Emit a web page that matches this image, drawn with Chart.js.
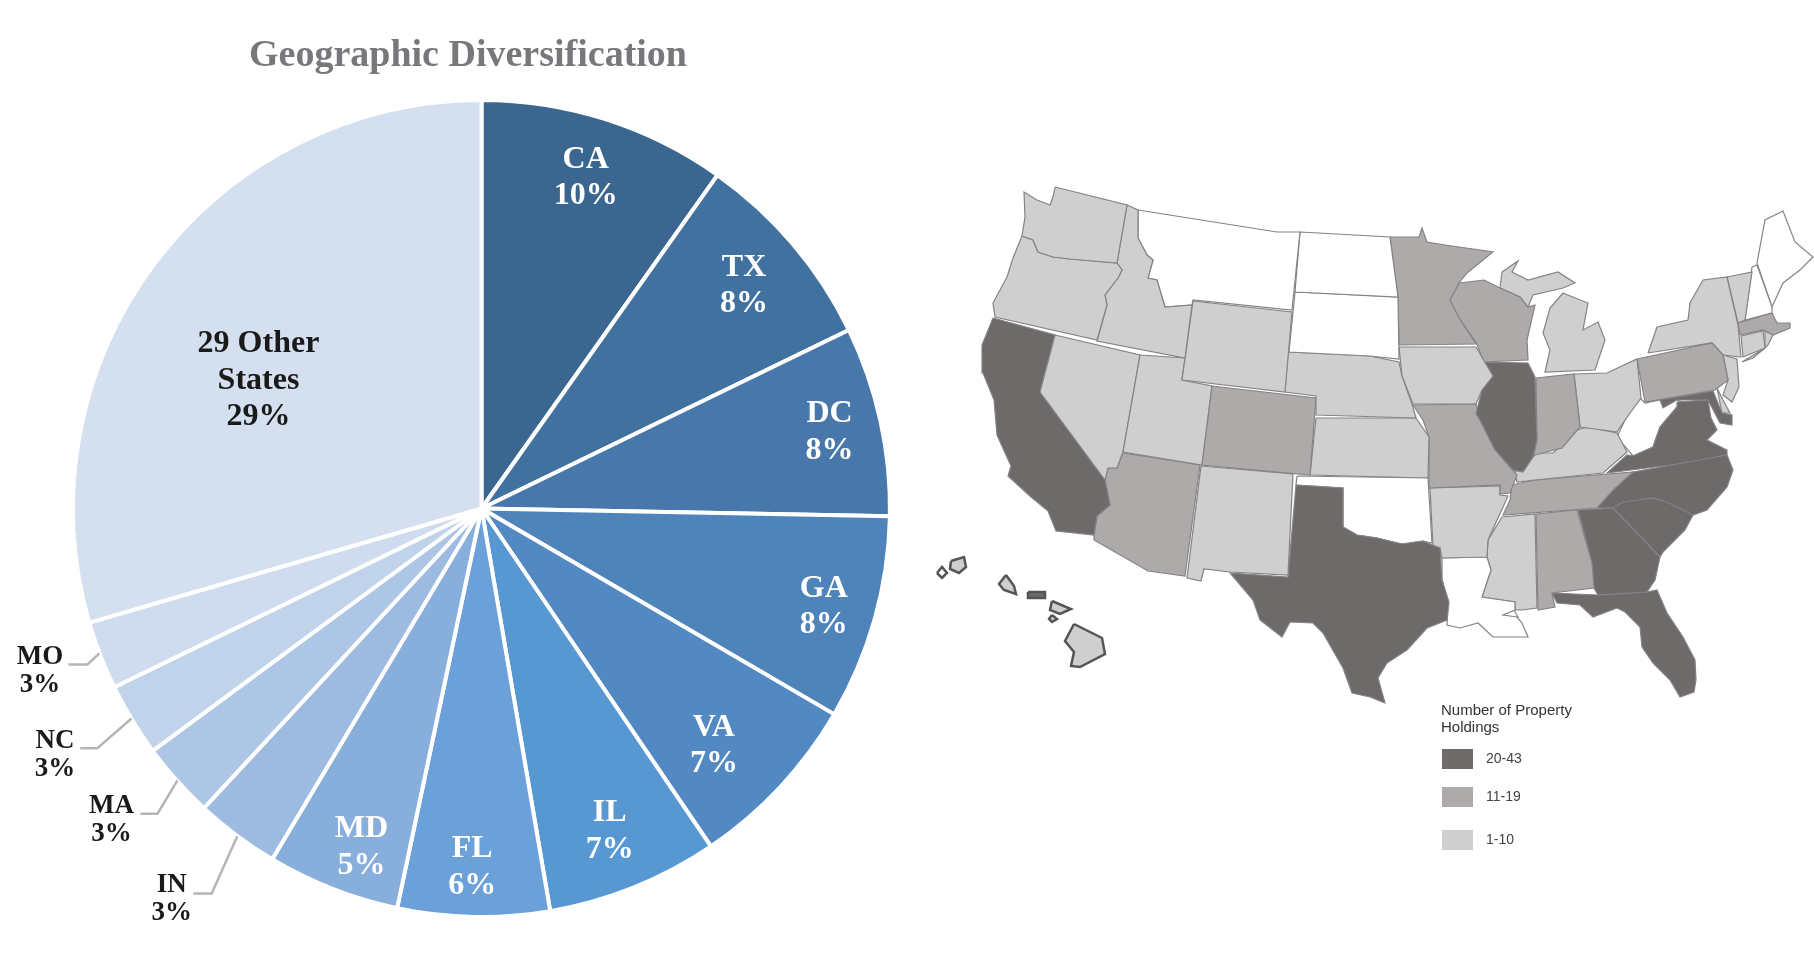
<!DOCTYPE html>
<html>
<head>
<meta charset="utf-8">
<title>Geographic Diversification</title>
<script src="https://cdn.jsdelivr.net/npm/chart.js@4"></script>
<style>
  html, body { margin: 0; padding: 0; background: #fff; overflow: hidden; }
  canvas { position: absolute; display: block; }
  #pieChart { left: 0; top: 0; }
  #mapChart { left: 920px; top: 180px; filter: blur(0.6px); }
</style>
</head>
<body>
<canvas id="pieChart" width="936" height="956"></canvas>
<canvas id="mapChart" width="894" height="720"></canvas>
<script>
// pie data
const stateNames = ["CA", "TX", "DC", "GA", "VA", "IL", "FL", "MD", "IN", "MA", "NC", "MO", "Other"];
const stateShares = [9.8, 8.0, 7.5, 8.1, 7.1, 6.8, 6.0, 5.25, 3.33, 3.0, 2.9, 2.7, 29.5];
const labelLines = [
  ["CA", "10%"], ["TX", "8%"], ["DC", "8%"], ["GA", "8%"], ["VA", "7%"], ["IL", "7%"], ["FL", "6%"],
  ["MD", "5%"], ["IN", "3%"], ["MA", "3%"], ["NC", "3%"], ["MO", "3%"], ["29 Other", "States", "29%"],
];
const sliceColors = ["#3b6690", "#41719f", "#4878ab", "#4f84ba", "#5289c3", "#5898d2", "#6ba0d8",
  "#88aedb", "#9dbbe1", "#aec6e5", "#c1d3ea", "#cfdcef", "#d4dfef"];
const labelColors = ["#fff", "#fff", "#fff", "#fff", "#fff", "#fff", "#fff", "#fff",
  "#1a1a1a", "#1a1a1a", "#1a1a1a", "#1a1a1a", "#1a1a1a"];
// label centres, in pie radii from the middle
const labelSpots = [[.256, -.81], [.645, -.545], [.855, -.185], [.841, .244], [.571, .585], [.315, .795],
  [-.023, .884], [-.295, .835], [-.761, .963], [-.909, .767], [-1.048, .608], [-1.085, .403], [-.548, -.3125]];
const outsideLabels = ["IN", "MA", "NC", "MO"];
// leader lines of the small slices, same units
const leaders = [
  [[-1.015, .383], [-.968, .383], [-.939, .356]],
  [[-.986, .589], [-.944, .589], [-.86, .516]],
  [[-.838, .75], [-.796, .75], [-.747, .668]],
  [[-.708, .946], [-.663, .946], [-.6, .805]],
];

// map tiers and legend
const tierColors = { dark: "#6f6a6a", mid: "#aeaaaa", light: "#cfcfd0", none: "#ffffff" };
const legendTitle = ["Number of Property", "Holdings"];
const legendLabels = ["20-43", "11-19", "1-10"];
const legendTiers = ["dark", "mid", "light"];

// state outlines (x, y on the map's own axes)
const WA = [[1055,187],[1127,205],[1117,263],[1070,259],[1053,257],[1038,252],[1033,240],[1022,236],[1025,217],[1024,192],[1037,200],[1050,205],[1053,197]];
const OR = [[1022,236],[1033,240],[1038,252],[1053,257],[1070,259],[1117,263],[1122,270],[1118,278],[1105,295],[1107,305],[1097,340],[995,317],[993,303],[1007,277],[1013,258]];
const ID = [[1127,205],[1138,210],[1138,238],[1147,255],[1153,260],[1148,278],[1157,280],[1165,307],[1192,305],[1185,358],[1097,341],[1107,305],[1105,295],[1118,278],[1122,270],[1117,263]];
const MT = [[1138,210],[1277,232],[1300,232],[1292,310],[1193,300],[1192,305],[1165,307],[1157,280],[1148,278],[1153,260],[1147,255],[1138,238]];
const ND = [[1300,232],[1390,237],[1398,297],[1295,292]];
const SD = [[1295,292],[1398,297],[1399,359],[1370,356],[1289,352]];
const WY = [[1193,301],[1292,312],[1285,392],[1182,380]];
const NE = [[1288,352],[1370,356],[1399,362],[1402,376],[1412,404],[1416,418],[1316,415],[1316,396],[1285,392]];
const CO = [[1212,386],[1316,398],[1310,475],[1202,465]];
const UT = [[1140,355],[1185,358],[1182,380],[1212,386],[1202,465],[1123,452]];
const NV = [[1055,335],[1140,355],[1123,452],[1117,468],[1108,468],[1105,480],[1040,392]];
const CA = [[993,318],[1055,335],[1040,392],[1105,480],[1110,505],[1097,516],[1094,535],[1056,531],[1048,511],[1031,497],[1008,476],[1011,466],[997,435],[994,400],[983,373],[982,345]];
const AZ = [[1123,453],[1200,465],[1185,576],[1148,571],[1094,540],[1094,535],[1097,516],[1110,505],[1105,480],[1108,468],[1117,468]];
const NM = [[1201,466],[1293,474],[1288,575],[1230,572],[1204,569],[1201,581],[1187,578]];
const TX = [[1296,485],[1343,488],[1343,527],[1357,535],[1377,538],[1402,544],[1423,541],[1440,548],[1442,580],[1449,602],[1447,620],[1427,628],[1407,650],[1387,663],[1378,678],[1385,703],[1370,697],[1352,693],[1343,668],[1323,633],[1313,623],[1290,622],[1282,637],[1260,620],[1253,600],[1230,573],[1288,577]];
const OK = [[1297,476],[1428,478],[1432,543],[1423,541],[1402,544],[1377,538],[1357,535],[1343,527],[1343,488],[1296,485]];
const KS = [[1316,418],[1416,418],[1429,437],[1428,478],[1310,475]];
const IA = [[1399,347],[1476,347],[1493,376],[1482,390],[1476,404],[1413,404],[1402,376]];
const MN = [[1390,237],[1419,237],[1422,228],[1427,242],[1445,245],[1493,252],[1467,273],[1459,283],[1450,300],[1459,318],[1476,344],[1399,345],[1398,297]];
const WI = [[1459,283],[1484,280],[1500,288],[1520,297],[1528,307],[1535,305],[1527,340],[1528,360],[1484,362],[1476,342],[1459,318],[1450,300]];
const MIU = [[1502,272],[1518,261],[1512,272],[1528,280],[1558,272],[1575,283],[1563,288],[1533,295],[1528,307],[1520,297],[1500,288]];
const MIL = [[1563,293],[1588,303],[1583,330],[1598,322],[1605,340],[1595,370],[1545,372],[1550,350],[1543,333],[1550,308]];
const IL = [[1484,362],[1528,363],[1535,377],[1537,440],[1533,457],[1523,472],[1513,470],[1495,450],[1480,420],[1476,414],[1482,390],[1493,376]];
const IN = [[1536,378],[1574,374],[1580,427],[1562,448],[1535,455],[1533,457],[1537,440]];
const OH = [[1574,374],[1607,373],[1637,359],[1641,398],[1625,420],[1617,432],[1603,430],[1580,427]];
const PA = [[1637,359],[1712,343],[1723,355],[1728,380],[1715,390],[1645,402]];
const NY = [[1648,353],[1657,327],[1688,320],[1690,303],[1703,280],[1727,277],[1738,325],[1741,357],[1723,355],[1712,343]];
const VT = [[1727,277],[1752,272],[1745,320],[1738,323]];
const NH = [[1752,267],[1757,265],[1772,307],[1772,313],[1745,320]];
const ME = [[1757,263],[1765,220],[1783,211],[1795,242],[1813,257],[1800,270],[1783,283],[1772,307]];
const MA = [[1738,323],[1772,313],[1777,323],[1790,323],[1790,328],[1773,335],[1763,330],[1740,335]];
const CT = [[1741,336],[1763,331],[1765,348],[1743,357]];
const RI = [[1765,331],[1773,335],[1768,345],[1765,348]];
const LI = [[1742,362],[1765,348],[1753,358]];
const NJ = [[1723,355],[1737,359],[1739,387],[1732,402],[1723,395],[1728,380]];
const DE = [[1717,388],[1723,400],[1730,413],[1722,413]];
const MD = [[1660,400],[1713,391],[1722,413],[1732,415],[1732,425],[1720,423],[1708,400],[1697,400],[1687,400],[1677,400],[1663,408]];
const WV = [[1639,397],[1645,403],[1660,400],[1663,408],[1677,400],[1685,403],[1677,407],[1660,427],[1653,447],[1633,456],[1617,437],[1625,420]];
const VA = [[1677,402],[1708,400],[1711,418],[1717,430],[1707,440],[1727,450],[1727,458],[1607,473],[1627,455],[1633,456],[1653,447],[1660,427],[1677,407]];
const NC = [[1727,455],[1733,470],[1727,487],[1707,510],[1693,515],[1660,500],[1653,498],[1640,500],[1613,508],[1597,508],[1613,490],[1633,472]];
const TN = [[1512,485],[1535,480],[1633,472],[1613,490],[1597,508],[1503,515],[1510,500]];
const KY = [[1535,453],[1553,453],[1577,430],[1587,427],[1617,433],[1627,452],[1603,473],[1535,480],[1517,482],[1515,472],[1528,463]];
const MO = [[1413,405],[1476,404],[1480,420],[1495,450],[1517,475],[1510,493],[1500,494],[1500,485],[1430,488],[1429,437],[1423,420]];
const AR = [[1430,488],[1500,486],[1500,495],[1508,496],[1488,540],[1487,557],[1442,558],[1440,548],[1433,547]];
const LA = [[1442,558],[1487,557],[1491,570],[1482,597],[1515,602],[1515,610],[1503,615],[1517,617],[1522,623],[1528,637],[1510,637],[1493,637],[1478,623],[1460,628],[1447,625],[1448,603],[1442,580]];
const MS = [[1502,517],[1535,514],[1537,608],[1522,610],[1515,610],[1515,602],[1482,597],[1491,570],[1487,557],[1488,540]];
const AL = [[1536,514],[1577,510],[1592,563],[1594,588],[1552,593],[1555,607],[1538,610]];
const GA = [[1578,510],[1613,508],[1660,557],[1655,580],[1647,592],[1598,595],[1594,588],[1592,563]];
const SC = [[1613,508],[1623,502],[1653,498],[1667,502],[1693,515],[1685,530],[1663,552],[1660,557]];
const FL = [[1552,593],[1598,595],[1647,592],[1657,590],[1667,613],[1683,637],[1695,660],[1696,680],[1694,692],[1680,697],[1670,680],[1653,663],[1642,647],[1640,627],[1625,612],[1617,608],[1593,617],[1580,605],[1557,603]];
const HI1 = [[937,573],[942,567],[947,573],[942,578]];
const HI2 = [[951,561],[964,557],[966,567],[959,573],[950,569]];
const HI3 = [[1006,575],[1014,586],[1016,594],[1004,590],[999,584]];
const HI4 = [[1028,592],[1045,592],[1045,598],[1028,598]];
const HI5 = [[1052,601],[1071,609],[1060,614],[1050,610]];
const HI6 = [[1052,615],[1057,619],[1052,622],[1049,619]];
const HI7 = [[1074,624],[1102,638],[1105,654],[1080,667],[1071,666],[1074,652],[1065,641]];
const LAisle = [[1503,615],[1513,608],[1518,617],[1510,619]];
const Puget = [[1040,218],[1048,210],[1052,217],[1045,223]];

const mapShapes = [
  [WA, "light"], [OR, "light"], [ID, "light"], [MT, "none"], [ND, "none"], [SD, "none"], [WY, "light"], [NE, "light"],
  [CO, "mid"], [UT, "light"], [NV, "light"], [CA, "dark"], [AZ, "mid"], [NM, "light"], [TX, "dark"], [OK, "none"],
  [KS, "light"], [IA, "light"], [MN, "mid"], [WI, "mid"], [MIU, "light"], [MIL, "light"], [IL, "dark"], [IN, "mid"],
  [OH, "light"], [MO, "mid"], [AR, "light"], [LA, "none"], [KY, "light"], [TN, "mid"], [MS, "light"], [AL, "mid"],
  [GA, "dark"], [FL, "dark"], [SC, "dark"], [NC, "dark"], [VA, "dark"], [WV, "none"], [MD, "dark"], [DE, "light"],
  [PA, "mid"], [NY, "light"], [NJ, "light"], [CT, "light"], [RI, "light"], [LI, "light"], [MA, "mid"], [VT, "light"], [NH, "none"],
  [ME, "none"], [LAisle, "none"], [Puget, "none"],
];
const hawaiiShapes = [[HI1, "none"], [HI2, "light"], [HI3, "light"], [HI4, "dark"], [HI5, "light"], [HI6, "light"], [HI7, "light"]];

const SERIF = '"Liberation Serif", serif';
const SANS = '"Liberation Sans", sans-serif';

const pieText = {
  id: "pieText",
  afterDatasetsDraw(chart) {
    const ctx = chart.ctx;
    const first = chart.getDatasetMeta(0).data[0];
    const cx = first.x, cy = first.y, r = 407;

    ctx.save();
    ctx.textAlign = "center";
    ctx.textBaseline = "middle";

    ctx.fillStyle = "#77787b";
    ctx.font = `bold 38px ${SERIF}`;
    ctx.fillText("Geographic Diversification", 468, 56);

    labelLines.forEach((lines, i) => {
      const outside = outsideLabels.includes(stateNames[i]);
      const gap = outside ? 28 : 36.4;
      const x = cx + labelSpots[i][0] * r;
      const y = cy + labelSpots[i][1] * r - 1;
      ctx.font = `bold ${outside ? 27 : 32}px ${SERIF}`;
      ctx.fillStyle = labelColors[i];
      lines.forEach((line, n) => {
        ctx.fillText(line, x, y + (n - (lines.length - 1) / 2) * gap);
      });
    });

    ctx.strokeStyle = "#b5b5b5";
    ctx.lineWidth = 2.5;
    leaders.forEach((pts) => {
      ctx.beginPath();
      pts.forEach((p, n) => {
        const x = cx + p[0] * r, y = cy + p[1] * r;
        if (n === 0) ctx.moveTo(x, y);
        else ctx.lineTo(x, y);
      });
      ctx.stroke();
    });
    ctx.restore();
  },
};

new Chart(document.getElementById("pieChart"), {
  type: "pie",
  data: {
    labels: stateNames,
    datasets: [{
      data: stateShares,
      backgroundColor: sliceColors,
      borderColor: "#ffffff",
      borderWidth: 4,
    }],
  },
  options: {
    responsive: false,
    animation: false,
    devicePixelRatio: 1,
    layout: { padding: { left: 71, right: 44, top: 98, bottom: 37 } },
    plugins: { legend: { display: false }, tooltip: { enabled: false } },
  },
  plugins: [pieText],
});

function shapeDataset([pts, tier], borderColor, borderWidth) {
  const closed = pts.concat([pts[0]]);
  return {
    data: closed.map(([x, y]) => ({ x, y })),
    showLine: true,
    fill: "shape",
    backgroundColor: tierColors[tier],
    borderColor,
    borderWidth,
    pointRadius: 0,
    tension: 0,
  };
}

const mapLegend = {
  id: "mapLegend",
  afterDatasetsDraw(chart) {
    const ctx = chart.ctx;
    ctx.save();
    ctx.textBaseline = "middle";
    ctx.textAlign = "left";
    ctx.font = `15px ${SANS}`;
    ctx.fillStyle = "#333";
    ctx.fillText(legendTitle[0], 521, 531);
    ctx.fillText(legendTitle[1], 521, 548);
    ctx.font = `14px ${SANS}`;
    const rows = [579, 617, 660];
    legendLabels.forEach((label, i) => {
      ctx.fillStyle = tierColors[legendTiers[i]];
      ctx.fillRect(522, rows[i] - 10, 31, 20);
      ctx.fillStyle = "#444";
      ctx.fillText(label, 566, rows[i]);
    });
    ctx.restore();
  },
};

new Chart(document.getElementById("mapChart"), {
  type: "scatter",
  data: {
    datasets: [
      ...hawaiiShapes.map((s) => shapeDataset(s, "#555555", 2.5)),
      ...mapShapes.map((s) => shapeDataset(s, "#858383", 1.2)),
    ],
  },
  options: {
    responsive: false,
    animation: false,
    devicePixelRatio: 1,
    layout: { padding: 0 },
    scales: {
      x: { display: false, min: 920, max: 1814 },
      y: { display: false, min: 180, max: 900, reverse: true },
    },
    plugins: { legend: { display: false }, tooltip: { enabled: false } },
  },
  plugins: [mapLegend],
});
</script>
</body>
</html>
